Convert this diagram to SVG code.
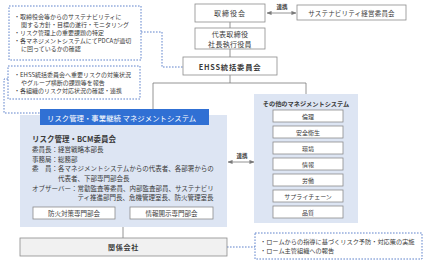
<svg xmlns="http://www.w3.org/2000/svg" width="425" height="261" viewBox="0 0 425 261">
<defs>
<style>
text{font-family:"Noto Sans CJK JP","Noto Sans",sans-serif;fill:#3a3a3a;dominant-baseline:central}
.box{fill:#fff;stroke:#8c8c8c;stroke-width:0.8}
.dash{fill:#fff;stroke:#4f76c6;stroke-width:0.9;stroke-dasharray:1.6 1.4}
.dl{fill:none;stroke:#4f76c6;stroke-width:0.9;stroke-dasharray:1.6 1.4}
.ln{fill:none;stroke:#7a7a7a;stroke-width:0.8}
.s{font-size:6px}
.m{font-size:6.5px}
.b{font-weight:bold}
.c{text-anchor:middle}
</style>
<marker id="ah" viewBox="0 0 6 6" refX="5.5" refY="3" markerWidth="5" markerHeight="5" orient="auto-start-reverse" markerUnits="userSpaceOnUse">
<path d="M0,0.5 L6,3 L0,5.5 Z" fill="#7a7a7a"/>
</marker>
</defs>
<rect width="425" height="261" fill="#fff"/>

<g id="connectors">
<path class="ln" d="M230,22 V28"/>
<path class="ln" d="M230,49 V57"/>
<path class="ln" d="M230,75 V83 M153,83 H306 M153,83 V110 M306,83 V94"/>
<path class="ln" d="M123,227 V238"/>
<path class="ln" d="M267,13 H296" marker-start="url(#ah)" marker-end="url(#ah)"/>
<path class="ln" d="M228,162 H254" marker-start="url(#ah)" marker-end="url(#ah)"/>
<path class="dl" d="M141,32 H162 V67 H183"/>
<path class="dl" d="M8,79 H4 V113 H40"/>
<path class="dl" d="M227,247 H255"/>
<text class="s b" x="282" y="7" style="font-size:5.5px" text-anchor="middle">連携</text>
<text class="s b" x="242" y="156" style="font-size:5.5px" text-anchor="middle">連携</text>
</g>

<g id="note1">
<rect class="dash" x="9" y="6" width="132" height="54"/>
<text class="s" x="14" y="16">・取締役会等からのサステナビリティに</text>
<text class="s" x="21" y="24">関する方針・目標の遂行・モニタリング</text>
<text class="s" x="14" y="32">・リスク管理上の重要課題の特定</text>
<text class="s" x="14" y="40">・各マネジメントシステムにてPDCAが適切</text>
<text class="s" x="21" y="48">に回っているかの確認</text>
</g>

<g id="note2">
<rect class="dash" x="8" y="66" width="132" height="33"/>
<text class="s" x="14" y="74">・EHSS統括委員会へ重要リスクの対策状況</text>
<text class="s" x="21" y="82">やグループ横断の課題等を報告</text>
<text class="s" x="14" y="90">・各組織のリスク対応状況の確認・連携</text>
</g>

<g id="board">
<rect class="box" x="195" y="4" width="70" height="18"/>
<text class="c" x="230" y="13" style="font-size:7px;letter-spacing:1px">取締役会</text>
</g>

<g id="sustainability">
<rect class="box" x="297" y="5" width="109" height="15"/>
<text class="c m" x="351.5" y="12.5" style="letter-spacing:0.2px">サステナビリティ経営委員会</text>
</g>

<g id="president">
<rect class="box" x="195" y="28" width="70" height="21"/>
<text class="c" x="230" y="34" style="font-size:7px;letter-spacing:0.3px">代表取締役</text>
<text class="c" x="230" y="43.5" style="font-size:7px;letter-spacing:0.3px">社長執行役員</text>
</g>

<g id="ehss">
<rect class="box" x="183" y="57" width="94" height="18"/>
<text class="c b" x="230" y="66.5" style="font-size:7.3px;letter-spacing:0.8px">EHSS統括委員会</text>
</g>

<g id="risk-panel">
<rect x="20" y="115" width="207" height="112" fill="#dde5f3"/>
<rect x="40" y="109" width="169" height="16" fill="#3070d4"/>
<text x="47" y="117.5" style="font-size:7.4px;fill:#fff">リスク管理・事業継続 マネジメントシステム</text>
<text class="b" x="32" y="138" style="font-size:7.5px">リスク管理・BCM委員会</text>
<text class="m" x="32" y="149">委員長：経営戦略本部長</text>
<text class="m" x="32" y="158.5">事務局：総務部</text>
<text class="m" x="32" y="168">委　員：各マネジメントシステムからの代表者、各部署からの</text>
<text class="m" x="58" y="177.5">代表者、下部専門部会長</text>
<text class="m" x="32" y="188">オブザーバー：常勤監査等委員、内部監査部員、サステナビリ</text>
<text class="m" x="77.5" y="197">ティ推進部門長、危機管理室長、防火管理室長</text>
<g id="fire">
<rect class="box" x="33" y="207" width="82" height="12"/>
<text class="c m" x="74" y="213">防火対策専門部会</text>
</g>
<g id="disclosure">
<rect class="box" x="130" y="207" width="83" height="12"/>
<text class="c m" x="171.5" y="213">情報開示専門部会</text>
</g>
</g>

<g id="other-ms">
<rect x="254" y="94" width="104" height="129" fill="#dde5f3"/>
<text class="c b" x="306" y="103" style="font-size:6.2px">その他のマネジメントシステム</text>
<g id="ethics"><rect class="box" x="273" y="110" width="70" height="12"/><text class="c s" x="308" y="116">倫理</text></g>
<g id="safety"><rect class="box" x="273" y="126" width="70" height="12"/><text class="c s" x="308" y="132">安全衛生</text></g>
<g id="environment"><rect class="box" x="273" y="142" width="70" height="12"/><text class="c s" x="308" y="148">環境</text></g>
<g id="information"><rect class="box" x="273" y="158" width="70" height="12"/><text class="c s" x="308" y="164">情報</text></g>
<g id="labor"><rect class="box" x="273" y="174" width="70" height="12"/><text class="c s" x="308" y="180">労働</text></g>
<g id="supply"><rect class="box" x="273" y="190" width="70" height="12"/><text class="c s" x="308" y="196">サプライチェーン</text></g>
<g id="quality"><rect class="box" x="273" y="206" width="70" height="12"/><text class="c s" x="308" y="212">品質</text></g>
</g>

<g id="affiliates">
<rect x="20" y="238" width="207" height="18" fill="#f1f1f1" stroke="#8c8c8c" stroke-width="0.8"/>
<text class="c b" x="123.5" y="247" style="font-size:7px;letter-spacing:0.8px">関係会社</text>
</g>

<g id="note3">
<rect class="dash" x="255" y="233" width="167" height="26"/>
<text x="260" y="241" style="font-size:6.2px">・ロームからの指導に基づくリスク予防・対応策の実施</text>
<text x="260" y="250" style="font-size:6.2px">・ローム主管組織への報告</text>
</g>
</svg>
